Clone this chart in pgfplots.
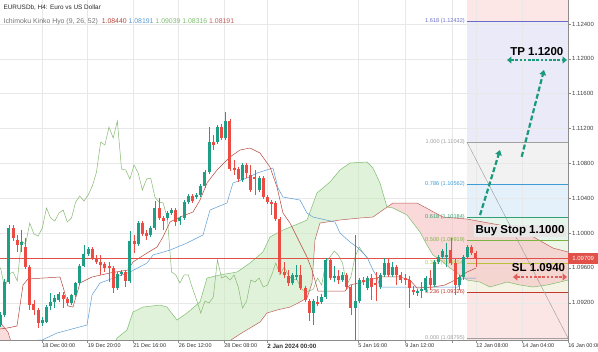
\documentclass[border=0pt]{standalone}
\usepackage{fontspec}
\setmainfont{Liberation Sans}
\usepackage{pgfplots}
\usepackage{pgfplotstable}
\pgfplotsset{compat=1.18}
\usepgfplotslibrary{fillbetween}
\usetikzlibrary{arrows.meta}

\definecolor{cgreen}{HTML}{1E9E84}
\definecolor{cred}{HTML}{EB4D45}
\definecolor{tenkan}{HTML}{B5473A}
\definecolor{kijun}{HTML}{5B9BD5}
\definecolor{chikou}{HTML}{86B870}
\definecolor{spanA}{HTML}{7DBE6E}
\definecolor{spanB}{HTML}{C0605A}
\definecolor{cloudG}{HTML}{CBE9C1}
\definecolor{cloudR}{HTML}{F6C5C5}
\definecolor{pricered}{HTML}{E2504A}
\definecolor{zTop}{HTML}{FCE6E6}
\definecolor{zA}{HTML}{EAEAF8}
\definecolor{zB}{HTML}{F2F2F2}
\definecolor{zC}{HTML}{E4F1FA}
\definecolor{zD}{HTML}{E5F5EB}
\definecolor{zE}{HTML}{EEF6E8}
\definecolor{zF}{HTML}{F5F4E4}
\definecolor{zG}{HTML}{FBE5E5}
\definecolor{f1618}{HTML}{6B6BC8}
\definecolor{f1000}{HTML}{A0A0A0}
\definecolor{f786}{HTML}{3D9BD6}
\definecolor{f618}{HTML}{33A06F}
\definecolor{f500}{HTML}{7CB342}
\definecolor{f382}{HTML}{B8C23A}
\definecolor{f236}{HTML}{C0392B}
\definecolor{arrowgreen}{HTML}{1A9A7C}
\definecolor{slred}{HTML}{E35D5B}

\pgfplotstableread{
j o h l c d
0 1.08945 1.09094 1.08922 1.09059 1
1 1.09059 1.09473 1.09036 1.09438 1
2 1.09438 1.10092 1.09415 1.10058 1
3 1.10058 1.10092 1.09909 1.09943 0
4 1.09920 1.09978 1.09783 1.09863 0
5 1.09863 1.10035 1.09783 1.09897 1
6 1.09840 1.09943 1.09587 1.09610 0
7 1.09610 1.09633 1.09117 1.09174 0
8 1.09186 1.09232 1.09059 1.09117 0
9 1.09117 1.09140 1.08910 1.08968 0
10 1.08968 1.09036 1.08933 1.09002 1
11 1.08979 1.09174 1.08968 1.09151 1
12 1.09163 1.09312 1.09117 1.09209 1
13 1.09209 1.09289 1.09140 1.09255 1
14 1.09232 1.09323 1.09209 1.09300 1
15 1.09289 1.09323 1.09140 1.09243 0
16 1.09243 1.09266 1.09163 1.09197 0
17 1.09197 1.09300 1.09174 1.09289 1
18 1.09289 1.09438 1.09266 1.09427 1
19 1.09427 1.09645 1.09404 1.09622 1
20 1.09622 1.09863 1.09610 1.09760 1
21 1.09760 1.09840 1.09737 1.09817 1
22 1.09817 1.09840 1.09691 1.09714 0
23 1.09714 1.09748 1.09645 1.09668 0
24 1.09668 1.09748 1.09519 1.09633 0
25 1.09645 1.09668 1.09553 1.09599 0
26 1.09622 1.09668 1.09438 1.09599 0
27 1.09599 1.09622 1.09312 1.09369 0
28 1.09369 1.09553 1.09346 1.09530 1
29 1.09530 1.09576 1.09507 1.09553 1
30 1.09553 1.09576 1.09381 1.09450 0
31 1.09450 1.10024 1.09427 1.09909 1
32 1.09909 1.09978 1.09771 1.09874 0
33 1.09874 1.10138 1.09851 1.10115 1
34 1.10115 1.10138 1.09966 1.09989 0
35 1.10001 1.10035 1.09920 1.09966 0
36 1.09978 1.10081 1.09955 1.10058 1
37 1.10058 1.10368 1.10035 1.10288 1
38 1.10288 1.10402 1.10150 1.10173 0
39 1.10173 1.10196 1.10035 1.10138 0
40 1.10173 1.10253 1.10150 1.10230 1
41 1.10230 1.10288 1.10207 1.10265 1
42 1.10265 1.10288 1.10081 1.10127 0
43 1.10138 1.10196 1.10092 1.10173 1
44 1.10173 1.10379 1.10150 1.10356 1
45 1.10356 1.10448 1.10333 1.10425 1
46 1.10425 1.10448 1.10345 1.10368 0
47 1.10414 1.10460 1.10391 1.10437 1
48 1.10437 1.10563 1.10414 1.10540 1
49 1.10540 1.10724 1.10517 1.10701 1
50 1.10701 1.11217 1.10678 1.11045 1
51 1.11045 1.11125 1.10953 1.11011 0
52 1.11045 1.11240 1.11022 1.11217 1
53 1.11217 1.11252 1.11068 1.11091 0
54 1.11091 1.11389 1.11068 1.11286 1
55 1.11286 1.11309 1.10712 1.10735 0
56 1.10747 1.10839 1.10666 1.10724 0
57 1.10735 1.10758 1.10586 1.10620 0
58 1.10609 1.10804 1.10586 1.10781 1
59 1.10781 1.10804 1.10632 1.10689 0
60 1.10666 1.10781 1.10471 1.10494 0
61 1.10643 1.10724 1.10437 1.10620 0
62 1.10494 1.10655 1.10471 1.10632 1
63 1.10632 1.10655 1.10391 1.10414 0
64 1.10414 1.10437 1.10333 1.10356 0
65 1.10356 1.10379 1.10207 1.10345 0
66 1.10345 1.10368 1.10138 1.10161 0
67 1.10161 1.10184 1.09530 1.09553 0
68 1.09553 1.09668 1.09484 1.09519 0
69 1.09507 1.09576 1.09392 1.09427 0
70 1.09427 1.09542 1.09404 1.09519 1
71 1.09507 1.09633 1.09461 1.09519 1
72 1.09519 1.09633 1.09346 1.09369 0
73 1.09369 1.09392 1.09209 1.09232 0
74 1.09220 1.09243 1.08990 1.09082 0
75 1.09082 1.09243 1.08945 1.09220 1
76 1.09209 1.09277 1.09163 1.09197 0
77 1.09209 1.09300 1.09186 1.09266 1
78 1.09266 1.09714 1.09243 1.09691 1
79 1.09691 1.09714 1.09461 1.09484 0
80 1.09484 1.09622 1.09438 1.09507 1
81 1.09507 1.09576 1.09415 1.09461 0
82 1.09461 1.09553 1.09438 1.09519 1
83 1.09519 1.09542 1.09358 1.09381 0
84 1.09381 1.09404 1.09059 1.09140 0
85 1.09140 1.09978 1.08750 1.09220 1
86 1.09220 1.09484 1.09197 1.09461 1
87 1.09461 1.09496 1.09404 1.09438 0
88 1.09369 1.09507 1.09346 1.09484 1
89 1.09484 1.09530 1.09232 1.09381 0
90 1.09427 1.09553 1.09220 1.09404 0
91 1.09381 1.09542 1.09358 1.09519 1
92 1.09519 1.09714 1.09496 1.09656 1
93 1.09656 1.09714 1.09496 1.09519 0
94 1.09519 1.09668 1.09496 1.09610 1
95 1.09610 1.09633 1.09404 1.09519 0
96 1.09519 1.09553 1.09427 1.09461 0
97 1.09484 1.09530 1.09404 1.09473 0
98 1.09461 1.09507 1.09140 1.09369 0
99 1.09346 1.09392 1.09289 1.09323 0
100 1.09312 1.09358 1.09277 1.09335 1
101 1.09346 1.09438 1.09255 1.09358 1
102 1.09346 1.09507 1.09323 1.09484 1
103 1.09484 1.09576 1.09346 1.09404 0
104 1.09404 1.09691 1.09381 1.09668 1
105 1.09668 1.09748 1.09645 1.09725 1
106 1.09725 1.09817 1.09702 1.09794 1
107 1.09725 1.09886 1.09610 1.09748 1
108 1.09805 1.09943 1.09633 1.09656 0
109 1.09656 1.09714 1.09289 1.09404 0
110 1.09404 1.09519 1.09346 1.09496 1
111 1.09496 1.09748 1.09461 1.09725 1
112 1.09725 1.09863 1.09702 1.09840 1
113 1.09840 1.09863 1.09748 1.09771 0
114 1.09771 1.09794 1.09610 1.09709 0
}\candles

\begin{document}
\begin{tikzpicture}
\begin{axis}[
  at={(0pt,12pt)}, anchor=south west,
  scale only axis, width=568pt, height=340pt,
  xmin=-0.144, xmax=136.07, ymin=1.08773, ymax=1.12675,
  axis x line*=bottom, axis y line*=right,
  axis line style={draw=black!45, line width=0.5pt, -},
  set layers, clip mode=individual,
  xtick={9.93,20.84,31.75,42.66,53.57,63.88,85.71,96.98,108.25,114.01,125.04,136.07},
  xticklabels={18 Dec 00:00,19 Dec 20:00,21 Dec 16:00,26 Dec 12:00,28 Dec 08:00,{\bfseries\fontsize{6.2}{7}\selectfont 2 Jan 2024 00:00},5 Jan 16:00,9 Jan 12:00,{},12 Jan 08:00,14 Jan 04:00,16 Jan 00:00},
  ytick={1.092,1.096,1.100,1.104,1.108,1.112,1.116,1.120,1.124},
  yticklabels={1.09200,1.09600,1.10000,1.10400,1.10800,1.11200,1.11600,1.12000,1.12400},
  tick align=outside, major tick length=3pt,
  tick style={draw=black!45, line width=0.4pt},
  xticklabel style={anchor=north west, inner sep=0.5pt, xshift=-0.3pt, font=\fontsize{5.5}{6.5}\selectfont, text=black!80},
  yticklabel style={anchor=west, inner sep=1pt, font=\fontsize{6}{7}\selectfont, text=black!75},
  grid=major, grid style={draw=black!9, line width=0.4pt},
]
% Fibonacci zones
\begin{pgfonlayer}{axis background}
\fill[zTop] (axis cs:111.85,1.12432) rectangle (axis cs:136.07,1.12675);
\fill[zA] (axis cs:111.85,1.11043) rectangle (axis cs:136.07,1.12432);
\fill[zB] (axis cs:111.85,1.10562) rectangle (axis cs:136.07,1.11043);
\fill[zC] (axis cs:111.85,1.10184) rectangle (axis cs:136.07,1.10562);
\fill[zD] (axis cs:111.85,1.09919) rectangle (axis cs:136.07,1.10184);
\fill[zE] (axis cs:111.85,1.09654) rectangle (axis cs:136.07,1.09919);
\fill[zF] (axis cs:111.85,1.09326) rectangle (axis cs:136.07,1.09654);
\fill[zG] (axis cs:111.85,1.08773) rectangle (axis cs:136.07,1.09326);
\end{pgfonlayer}

% Senkou spans
\addplot[name path=spanA, spanA, line width=0.5pt] coordinates {
(-0.14,1.08543) (23.84,1.08543) (26.71,1.08658) (27.91,1.08795) (30.31,1.08887) (31.75,1.09094)
(34.15,1.09151) (38.22,1.09174) (39.90,1.09151) (42.30,1.09002) (44.70,1.09082) (47.82,1.09209)
(49.50,1.09484) (52.61,1.09519) (56.69,1.09553) (59.81,1.09656) (62.92,1.09783) (64.60,1.09955)
(67.72,1.10035) (71.80,1.10115) (73.48,1.10150) (75.87,1.10460) (78.99,1.10586) (81.39,1.10724)
(83.79,1.10804) (87.87,1.10816) (89.30,1.10747) (90.98,1.10575) (92.66,1.10299) (94.10,1.10288)
(97.46,1.10207) (100.58,1.10012) (102.25,1.09863) (103.69,1.09748) (106.09,1.09668) (107.77,1.09599)
(110.17,1.09519) (111.85,1.09461) (114.97,1.09438) (117.36,1.09381) (119.04,1.09404) (121.44,1.09438)
(124.56,1.09404) (127.67,1.09381) (131.03,1.09404) (134.15,1.09438) (136.07,1.09461)};
\addplot[name path=spanB, spanB, line width=0.5pt] coordinates {
(-0.14,1.08979) (1.77,1.08864) (2.73,1.08715) (23.84,1.08600) (53.09,1.08658) (54.53,1.08750)
(57.41,1.08841) (62.20,1.08979) (63.88,1.09082) (66.28,1.09117) (69.40,1.09151) (71.32,1.09197)
(73.48,1.09255) (74.68,1.09427) (75.39,1.09920) (76.59,1.10115) (81.39,1.10150) (86.19,1.10173)
(89.30,1.10184) (91.70,1.10265) (94.10,1.10345) (99.86,1.10345) (106.09,1.10184) (111.85,1.10161)
(119.76,1.10092) (126.95,1.09978) (132.47,1.09828) (136.07,1.09783)};
\addplot[fill=cloudR, fill opacity=0.6, draw=none] fill between[of=spanA and spanB, soft clip={domain=-0.2:25.4}];
\addplot[fill=cloudG, fill opacity=0.6, draw=none] fill between[of=spanA and spanB, soft clip={domain=25.4:92.7}];
\addplot[fill=cloudR, fill opacity=0.65, draw=none] fill between[of=spanA and spanB, soft clip={domain=92.7:136.1}];

% Fibonacci levels
\addplot[f1618, line width=0.5pt] coordinates {(111.85,1.12432) (136.07,1.12432)};
\addplot[f1000, line width=0.5pt] coordinates {(111.85,1.11043) (136.07,1.11043)};
\addplot[f786, line width=0.5pt] coordinates {(111.85,1.10562) (136.07,1.10562)};
\addplot[f618, line width=0.5pt] coordinates {(111.85,1.10184) (136.07,1.10184)};
\addplot[f500, line width=0.5pt] coordinates {(111.85,1.09919) (136.07,1.09919)};
\addplot[f382, line width=0.5pt] coordinates {(111.85,1.09654) (136.07,1.09654)};
\addplot[f236, line width=0.5pt] coordinates {(111.85,1.09326) (136.07,1.09326)};
\addplot[f1000, line width=0.5pt] coordinates {(111.85,1.08795) (136.07,1.08795)};
\addplot[black!40, line width=0.4pt] coordinates {(111.85,1.11043) (136.07,1.08795)};
\begin{scope}[every node/.style={anchor=east, inner sep=1pt, font=\fontsize{5.6}{6.5}\selectfont}]
\node[text=f1618] at (axis cs:111.6,1.12432) {1.618 (1.12432)};
\node[text=f1000] at (axis cs:111.6,1.11043) {1.000 (1.11043)};
\node[text=f786] at (axis cs:111.6,1.10562) {0.786 (1.10562)};
\node[text=f618] at (axis cs:111.6,1.10184) {0.618 (1.10184)};
\node[text=f500] at (axis cs:111.6,1.09919) {0.500 (1.09919)};
\node[text=f382] at (axis cs:111.6,1.09654) {0.382 (1.09654)};
\node[text=f236] at (axis cs:111.6,1.09326) {0.236 (1.09326)};
\node[text=f1000] at (axis cs:111.6,1.08795) {0.000 (1.08795)};
\end{scope}

% Chikou span (closes shifted back 26 bars)
\addplot[chikou, line width=0.5pt] table[x expr=\thisrow{j}-26, y=c] {\candles};
% Kijun-sen
\addplot[kijun, line width=0.5pt] coordinates {
(-0.14,1.08750) (3.45,1.08761) (9.93,1.08772) (13.53,1.08853) (20.72,1.08945) (21.92,1.09289)
(23.84,1.09427) (31.03,1.09553) (35.11,1.09656) (36.55,1.09748) (40.62,1.09805) (44.70,1.09886)
(48.54,1.09978) (50.22,1.10265) (54.29,1.10345) (55.73,1.10575) (59.09,1.10632) (61.48,1.10689)
(65.32,1.10747) (66.52,1.10517) (67.72,1.10414) (71.80,1.10379) (73.48,1.10230) (74.91,1.10184)
(80.19,1.10127) (81.39,1.10001) (83.79,1.09897) (85.47,1.09840) (87.87,1.09725) (89.30,1.09576)
(90.26,1.09496) (90.98,1.09381) (102.25,1.09381) (109.69,1.09381) (110.65,1.09484) (114.01,1.09484)};
% Tenkan-sen
\addplot[tenkan, line width=0.5pt] coordinates {
(-0.14,1.08899) (1.53,1.08910) (3.93,1.08933) (5.37,1.09404) (6.57,1.09473) (14.24,1.09496)
(15.20,1.09346) (16.16,1.09163) (17.36,1.09151) (19.04,1.09427) (21.92,1.09496) (26.23,1.09542)
(30.55,1.09576) (31.75,1.09668) (35.11,1.09771) (37.51,1.09840) (38.94,1.09955) (40.62,1.10127)
(43.02,1.10184) (46.14,1.10242) (47.82,1.10379) (49.50,1.10575) (51.89,1.10724) (55.01,1.10873)
(57.41,1.10953) (59.81,1.10976) (62.20,1.10919) (64.60,1.10758) (66.28,1.10529) (67.72,1.10230)
(69.40,1.10115) (71.08,1.09955) (73.48,1.09725) (74.68,1.09576) (76.11,1.09335) (82.59,1.09335)
(83.79,1.09404) (86.67,1.09438) (90.98,1.09496) (95.78,1.09496) (98.18,1.09461) (99.86,1.09369)
(103.69,1.09381) (106.57,1.09404) (108.97,1.09461) (111.85,1.09553) (114.01,1.09599)};

% current price line
\addplot[pricered, line width=0.5pt] coordinates {(-0.144,1.09709) (136.07,1.09709)};

% Candles: wicks
\addplot[draw=none, mark=none, forget plot, error bars/.cd, y dir=both, y explicit, error mark=none,
  error bar style={draw=cgreen, line width=0.7pt}]
  table[x=j, y expr={(\thisrow{h}+\thisrow{l})/2+0.1*(1-\thisrow{d})}, y error expr={(\thisrow{h}-\thisrow{l})/2}] {\candles};
\addplot[draw=none, mark=none, forget plot, error bars/.cd, y dir=both, y explicit, error mark=none,
  error bar style={draw=cred, line width=0.7pt}]
  table[x=j, y expr={(\thisrow{h}+\thisrow{l})/2+0.1*\thisrow{d}}, y error expr={(\thisrow{h}-\thisrow{l})/2}] {\candles};
% Candles: bodies
\addplot[draw=none, mark=none, forget plot, error bars/.cd, y dir=both, y explicit, error mark=none,
  error bar style={draw=cgreen, line width=3pt}]
  table[x=j, y expr={(\thisrow{o}+\thisrow{c})/2+0.1*(1-\thisrow{d})}, y error expr={max(abs(\thisrow{c}-\thisrow{o})/2,0.00005)}] {\candles};
\addplot[draw=none, mark=none, forget plot, error bars/.cd, y dir=both, y explicit, error mark=none,
  error bar style={draw=cred, line width=3pt}]
  table[x=j, y expr={(\thisrow{o}+\thisrow{c})/2+0.1*\thisrow{d}}, y error expr={max(abs(\thisrow{c}-\thisrow{o})/2,0.00005)}] {\candles};

% Trade annotations
\draw[arrowgreen, line width=2.2pt, dash pattern=on 5pt off 2.5pt, -{Triangle[length=5pt,width=6.5pt]}]
  (axis cs:114.97,1.10207) -- (axis cs:119.76,1.10953);
\draw[arrowgreen, line width=2.2pt, dash pattern=on 5pt off 2.5pt, -{Triangle[length=5pt,width=6.5pt]}]
  (axis cs:124.97,1.10876) -- (axis cs:130.31,1.11872);
\draw[arrowgreen, line width=2.6pt, dash pattern=on 2.6pt off 1.6pt, {Triangle[length=4.5pt,width=7pt]}-{Triangle[length=4.5pt,width=7pt]}]
  (axis cs:121.44,1.11986) -- (axis cs:135.83,1.11986);
\draw[slred, line width=2.6pt, dash pattern=on 2.6pt off 1.6pt, {Triangle[length=4.5pt,width=7pt]}-{Triangle[length=4.5pt,width=7pt]}]
  (axis cs:122.87,1.09496) -- (axis cs:135.83,1.09496);
\node[font=\bfseries\fontsize{11.5}{13}\selectfont, inner sep=0pt] at (axis cs:128.6,1.12078) {TP 1.1200};
\node[font=\bfseries\fontsize{11.5}{13}\selectfont, fill=black!9, inner sep=1.2pt] at (axis cs:124.56,1.10024) {Buy Stop 1.1000};
\node[font=\bfseries\fontsize{11.5}{13}\selectfont, inner sep=0pt] at (axis cs:129.0,1.09599) {SL 1.0940};

% price tag
\node[fill=pricered, text=white, anchor=west, inner sep=0pt, minimum width=30pt, minimum height=10.5pt,
  font=\fontsize{6}{7}\selectfont] at (axis cs:136.07,1.09709) {1.09709};

% header
\node[anchor=west, inner sep=0pt, font=\fontsize{6.4}{7.5}\selectfont, text=black!85] at (rel axis cs:0.006,0.979) {EURUSDb, H4: Euro vs US Dollar};
\node[anchor=west, inner sep=0pt, font=\fontsize{6.9}{8}\selectfont, text=black!55] at (rel axis cs:0.006,0.935)
  {Ichimoku Kinko Hyo (9, 26, 52)\ \ \textcolor{tenkan}{1.08440} \textcolor{kijun}{1.08191} \textcolor{spanA}{1.09039} \textcolor{spanA}{1.08316} \textcolor{spanB}{1.08191}};
\end{axis}
\pgfresetboundingbox
\useasboundingbox (0,0) rectangle (598pt,352pt);
\end{tikzpicture}
\end{document}
